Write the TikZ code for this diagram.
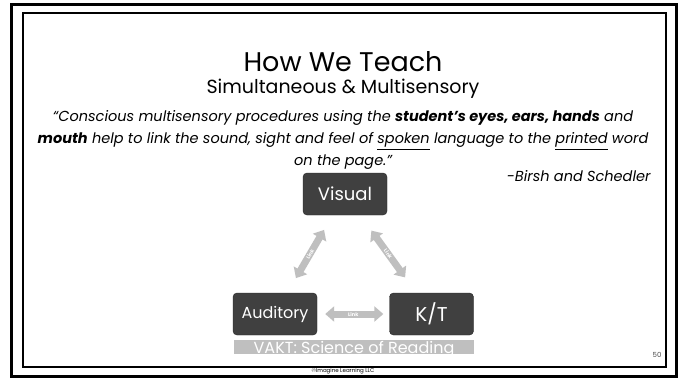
\documentclass[tikz,border=0pt]{standalone}
\usepackage{fontspec}
\setmainfont{Poppins}
\usetikzlibrary{arrows.meta,positioning,calc}
\definecolor{boxgray}{HTML}{404040}
\definecolor{linkgray}{HTML}{BFBFBF}
\tikzset{
  sense/.style={draw=black!85, fill=boxgray, rounded corners=4pt, text=white,
    minimum width=84pt, minimum height=42pt, inner sep=0pt},
  link/.style={line width=7pt, draw=linkgray,
    {Triangle[length=9pt,width=15pt]}-{Triangle[length=9pt,width=15pt]}},
  linklabel/.style={font=\fontsize{5}{5}\selectfont\bfseries, text=white, inner sep=0pt}
}
\begin{document}
\begin{tikzpicture}[x=1pt,y=-1pt]
		\useasboundingbox (0,0) rectangle (685,378);
		\fill[white] (0,0) rectangle (685,378);
		
		% frames
		\draw[line width=3pt] (11,4) rectangle (676,376);
		\draw[line width=1.5pt] (23,13) rectangle (666,367);
		
		% heading and quote
		\node (title) at (343,62) {\fontsize{27}{29}\selectfont How We Teach};
		\node (subtitle) at (343,89) {\fontsize{19}{21}\selectfont Simultaneous \& Multisensory};
		\node[align=center, font=\fontsize{14.5}{22}\selectfont\itshape] (quote) at (343,140)
			{“Conscious multisensory procedures using the \textbf{student’s eyes, ears, hands} and\\
			\textbf{mouth} help to link the sound, sight and feel of \underline{spoken} language to the \underline{printed} word\\
			on the page.”};
		\node[anchor=east, font=\fontsize{14.5}{16}\selectfont\itshape] (cite) at (654,176) {-Birsh and Schedler};
		
		% senses
		\node[sense, font=\fontsize{18}{18}\selectfont] (vis) at (345,194) {Visual};
		\node[sense, font=\fontsize{16}{16}\selectfont] (aud) at (275,314) {Auditory};
		\node[sense, font=\fontsize{20}{20}\selectfont] (kt) at (431.5,314) {K/T};
		
		\draw[link, shorten <=17pt, shorten >=17pt] (aud) -- node[linklabel, sloped] {Link} (vis);
		\draw[link, shorten <=19pt, shorten >=19pt] (kt) -- node[linklabel, sloped] {Link} (vis);
		\draw[link, shorten <=8pt, shorten >=6pt] (aud) -- node[linklabel] {Link} (kt);
		
		% bar
		\node[fill=linkgray, minimum width=240pt, minimum height=14pt, inner sep=0pt, anchor=north] (bar) at (354,340) {};
		\begin{scope}
			\clip (bar.south west) rectangle (bar.north east);
			\node[anchor=base, text=white, inner sep=0pt, font=\fontsize{16}{16}\selectfont] (vakt) at ($(bar.south)+(0,-1)$) {VAKT: Science of Reading};
		\end{scope}
		
		\node[font=\fontsize{7}{7}\selectfont, text=black!70] (page) at (657,355) {50};
		\node[font=\fontsize{5.5}{6}\selectfont] (copy) at (343,371.5) {©Imagine Learning LLC};
	\end{tikzpicture}
\end{document}
